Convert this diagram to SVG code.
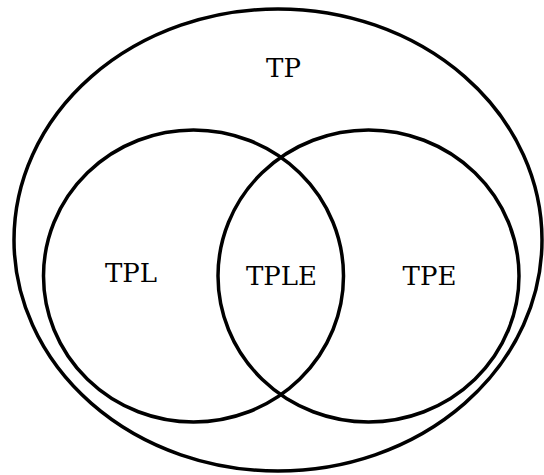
<svg xmlns="http://www.w3.org/2000/svg" width="544" height="475" viewBox="0 0 544 475">
<style>
.set{fill:none;stroke:#000;stroke-width:3.5}
.lbl{font-family:"DejaVu Serif",serif;font-size:26px;fill:#000;text-anchor:middle}
</style>
<rect width="544" height="475" fill="#fff"/>
<g id="TP"><ellipse class="set" cx="278" cy="240" rx="264" ry="231"/><text class="lbl" x="283.5" y="77">TP</text></g>
<g id="TPL"><ellipse class="set" cx="193.5" cy="276" rx="150" ry="146"/><text class="lbl" x="131" y="282">TPL</text></g>
<g id="TPE"><ellipse class="set" cx="368.5" cy="276" rx="150.5" ry="146"/><text class="lbl" x="429.5" y="285">TPE</text></g>
<g id="TPLE"><text class="lbl" x="281.5" y="285">TPLE</text></g>
<g id="connectors"></g>
</svg>
